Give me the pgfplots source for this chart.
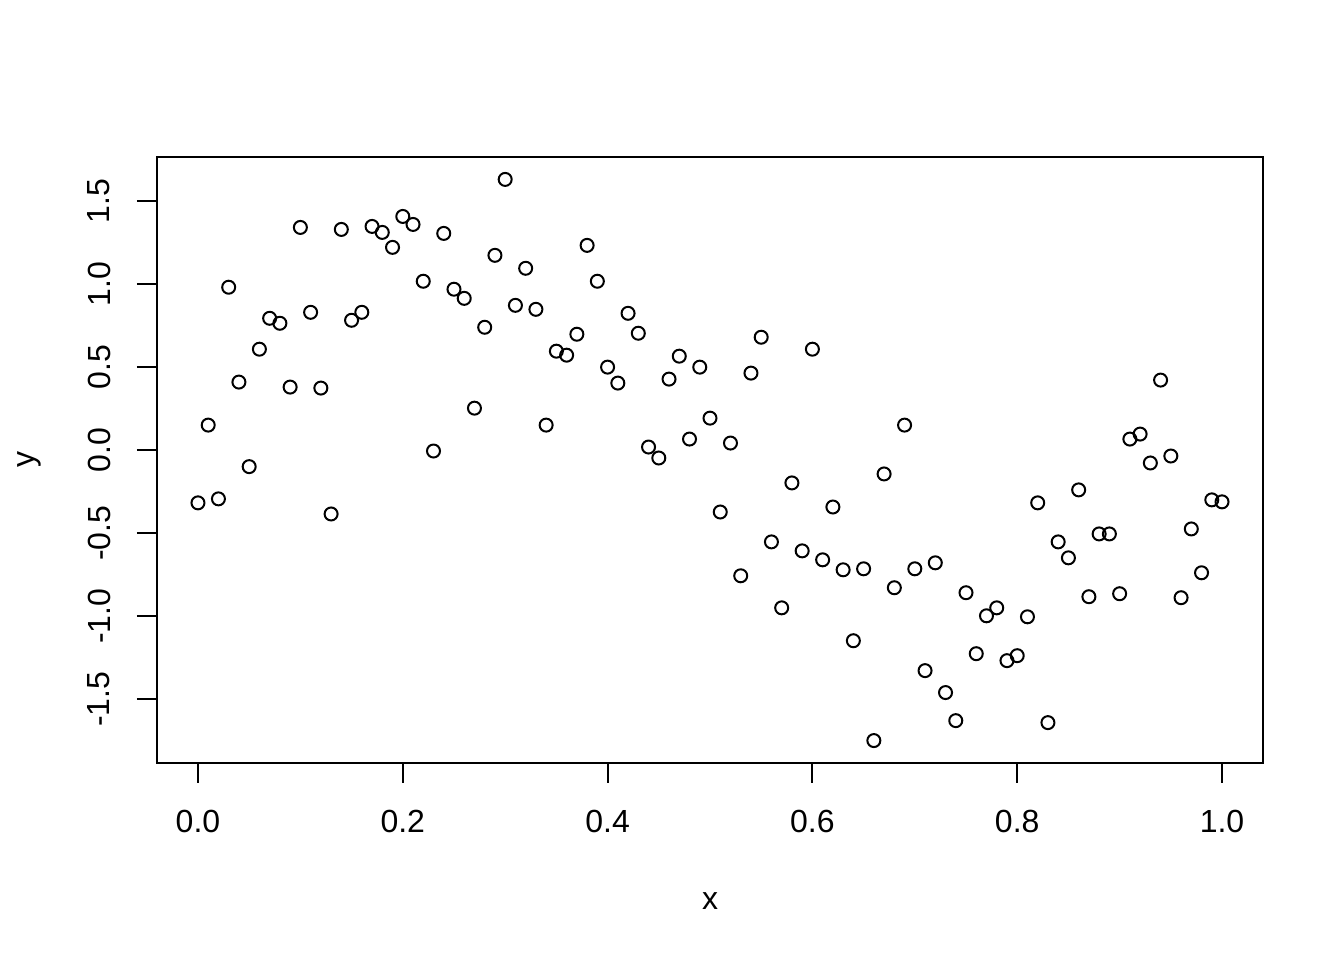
\documentclass[border=0pt]{standalone}
\usepackage{pgfplots}
\pgfplotsset{compat=1.18}
\usepackage{fontspec}
\setmainfont{Liberation Sans}
\begin{document}
\begin{tikzpicture}[x=1pt,y=1pt]
\begin{axis}[
  at={(157pt,197pt)}, anchor=south west,
  scale only axis, width=1106pt, height=606pt,
  xmin=-0.04, xmax=1.04, ymin=-1.884, ymax=1.764,
  axis line style={line width=2pt},
  every tick/.style={line width=2pt, black},
  tick align=outside, major tick length=20pt,
  xtick pos=lower, ytick pos=left,
  xtick={0,0.2,0.4,0.6,0.8,1.0},
  ytick={-1.5,-1,-0.5,0,0.5,1,1.5},
  /pgf/number format/assume math mode=true,
  /pgf/number format/.cd, fixed, fixed zerofill, precision=1, /pgfplots/.cd,
  xticklabel style={font=\fontsize{32}{38}\selectfont, anchor=center, yshift=-38pt},
  yticklabel style={font=\fontsize{32}{38}\selectfont, anchor=center, xshift=-38pt, rotate=90},
  xlabel={x}, ylabel={y},
  label style={font=\fontsize{32}{38}\selectfont},
  xlabel style={at={(axis description cs:0.5,-0.2277)}, anchor=center},
  ylabel style={at={(axis description cs:-0.1157,0.5)}, anchor=center},
  clip=false,
]
\addplot[only marks, mark=o, mark size=6.5pt, line width=2pt, black] coordinates {
(0.00,-0.318) (0.01,0.150) (0.02,-0.294) (0.03,0.980) (0.04,0.409) (0.05,-0.100)
(0.06,0.607) (0.07,0.793) (0.08,0.763) (0.09,0.379) (0.10,1.340) (0.11,0.829)
(0.12,0.373) (0.13,-0.385) (0.14,1.328) (0.15,0.781) (0.16,0.829) (0.17,1.346)
(0.18,1.310) (0.19,1.220) (0.20,1.406) (0.21,1.358) (0.22,1.016) (0.23,-0.006)
(0.24,1.304) (0.25,0.968) (0.26,0.913) (0.27,0.252) (0.28,0.739) (0.29,1.172)
(0.30,1.629) (0.31,0.871) (0.32,1.094) (0.33,0.847) (0.34,0.150) (0.35,0.595)
(0.36,0.571) (0.37,0.697) (0.38,1.232) (0.39,1.016) (0.40,0.499) (0.41,0.403)
(0.42,0.823) (0.43,0.703) (0.44,0.018) (0.45,-0.048) (0.46,0.427) (0.47,0.565)
(0.48,0.066) (0.49,0.499) (0.50,0.192) (0.51,-0.373) (0.52,0.042) (0.53,-0.757)
(0.54,0.463) (0.55,0.679) (0.56,-0.553) (0.57,-0.950) (0.58,-0.198) (0.59,-0.607)
(0.60,0.607) (0.61,-0.661) (0.62,-0.343) (0.63,-0.721) (0.64,-1.148) (0.65,-0.715)
(0.66,-1.749) (0.67,-0.144) (0.68,-0.829) (0.69,0.150) (0.70,-0.715) (0.71,-1.328)
(0.72,-0.679) (0.73,-1.460) (0.74,-1.629) (0.75,-0.859) (0.76,-1.226) (0.77,-0.998)
(0.78,-0.950) (0.79,-1.268) (0.80,-1.238) (0.81,-1.004) (0.82,-0.318) (0.83,-1.641)
(0.84,-0.553) (0.85,-0.649) (0.86,-0.240) (0.87,-0.883) (0.88,-0.505) (0.89,-0.505)
(0.90,-0.865) (0.91,0.066) (0.92,0.096) (0.93,-0.078) (0.94,0.421) (0.95,-0.036)
(0.96,-0.889) (0.97,-0.475) (0.98,-0.739) (0.99,-0.300) (1.00,-0.312)
};
\end{axis}
\path[use as bounding box] (0,0) rectangle (1344,960);
\end{tikzpicture}
\end{document}
